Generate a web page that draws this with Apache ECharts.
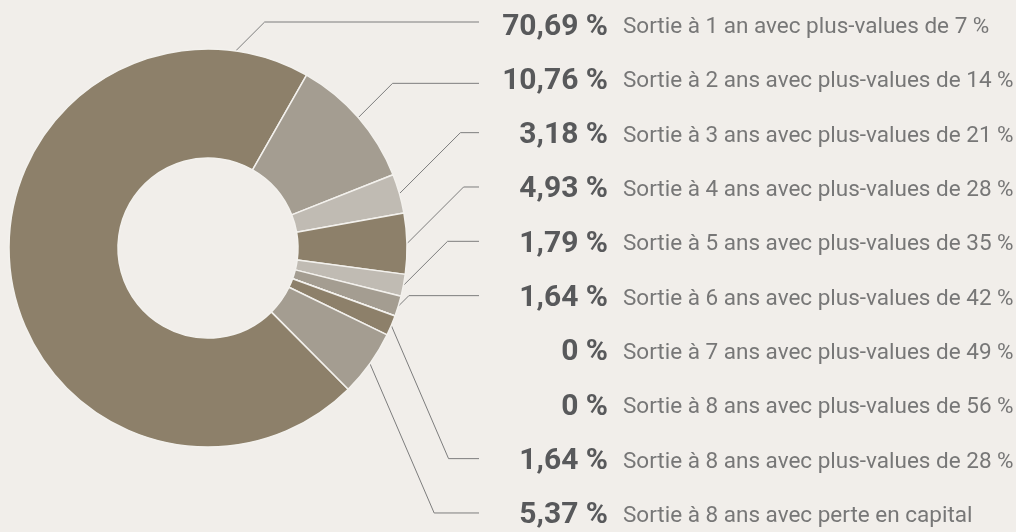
<!DOCTYPE html>
<html><head><meta charset="utf-8">
<script src="https://cdn.jsdelivr.net/npm/echarts@6/dist/echarts.min.js"></script>
<style>html,body{margin:0;padding:0;background:#f1eeea;} #c{width:1016px;height:532px;}</style>
</head><body><div id="c"></div>
<script>
// ---- data ----
const shares = [70.69, 10.76, 3.18, 4.93, 1.79, 1.64, 0, 0, 1.64, 5.37];
const descriptions = [
  'Sortie à 1 an avec plus-values de 7 %',
  'Sortie à 2 ans avec plus-values de 14 %',
  'Sortie à 3 ans avec plus-values de 21 %',
  'Sortie à 4 ans avec plus-values de 28 %',
  'Sortie à 5 ans avec plus-values de 35 %',
  'Sortie à 6 ans avec plus-values de 42 %',
  'Sortie à 7 ans avec plus-values de 49 %',
  'Sortie à 8 ans avec plus-values de 56 %',
  'Sortie à 8 ans avec plus-values de 28 %',
  'Sortie à 8 ans avec perte en capital'
];
const DARK = '#8d806a', MID = '#a49d91', LIGHT = '#c0bbb3';
const sliceColors = [DARK, MID, LIGHT, DARK, LIGHT, MID, DARK, MID, DARK, MID];

// ---- layout ----
const CX = 208, CY = 248, R_IN = 90, R_OUT = 199;
const START = 314.8;           // start angle of the first slice (deg)
const ROW0 = 24, ROW_STEP = 54.33;
const LINE_END_X = 479;
const PCT_RIGHT = 608;
const LINE_DY = {0: -2, 1: 5};
const ANCHOR_OVERRIDE = {0: 82}; // leader anchor angle for big slice
const PCT_FONT = 'bold 30px Roboto';
const total = shares.reduce((a, b) => a + b, 0);

function pctText(v) {
  return v === 0 ? '0 %' : v.toFixed(2).replace('.', ',') + ' %';
}
function midAngle(i) {
  let cum = 0;
  for (let k = 0; k < i; k++) cum += shares[k];
  return START - (cum + shares[i] / 2) / total * 360;
}
const measureCtx = document.createElement('canvas').getContext('2d');
function pctWidth(i) {
  measureCtx.font = PCT_FONT;
  return measureCtx.measureText(pctText(shares[i])).width;
}

const chart = echarts.init(document.getElementById('c'), null, {renderer: 'canvas'});
chart.setOption({
  backgroundColor: '#f1eeea',
  animation: false,
  series: [{
    type: 'pie',
    center: [CX, CY],
    radius: [R_IN, R_OUT],
    startAngle: START,
    clockwise: true,
    avoidLabelOverlap: false,
    silent: true,
    itemStyle: {borderColor: '#f3f1ed', borderWidth: 1.5},
    label: {
      show: true,
      position: 'outside',
      formatter: p => '{p|' + pctText(p.value) + '}{d|' + descriptions[p.dataIndex] + '}',
      rich: {
        p: {fontFamily: 'Roboto', fontWeight: 'bold', fontSize: 30, color: '#58595b',
            verticalAlign: 'bottom', lineHeight: 36},
        d: {fontFamily: 'Roboto', fontSize: 22.5, color: '#777777',
            padding: [0, 0, 3, 15], verticalAlign: 'bottom', lineHeight: 36}
      }
    },
    labelLine: {show: true, lineStyle: {color: '#7d7d7d', width: 1}},
    labelLayout: function (params) {
      const i = params.dataIndex;
      const y = ROW0 + ROW_STEP * i;
      const out = {x: PCT_RIGHT - pctWidth(i), y: y, align: 'left', verticalAlign: 'middle'};
      if (shares[i] > 0) {
        const ly = y + (LINE_DY[i] || 0);
        const a = (ANCHOR_OVERRIDE[i] !== undefined ? ANCHOR_OVERRIDE[i] : midAngle(i)) * Math.PI / 180;
        const x0 = CX + R_OUT * Math.cos(a), y0 = CY - R_OUT * Math.sin(a);
        const dy = ly - y0;
        const k = dy < 0 ? 1 : 0.43;
        out.labelLinePoints = [[x0, y0], [x0 + Math.abs(dy) * k, ly], [LINE_END_X, ly]];
      }
      return out;
    },
    data: shares.map((v, i) => ({
      value: v,
      name: descriptions[i],
      itemStyle: {color: sliceColors[i]},
      labelLine: {show: v > 0}
    }))
  }]
});
</script>
</body></html>
